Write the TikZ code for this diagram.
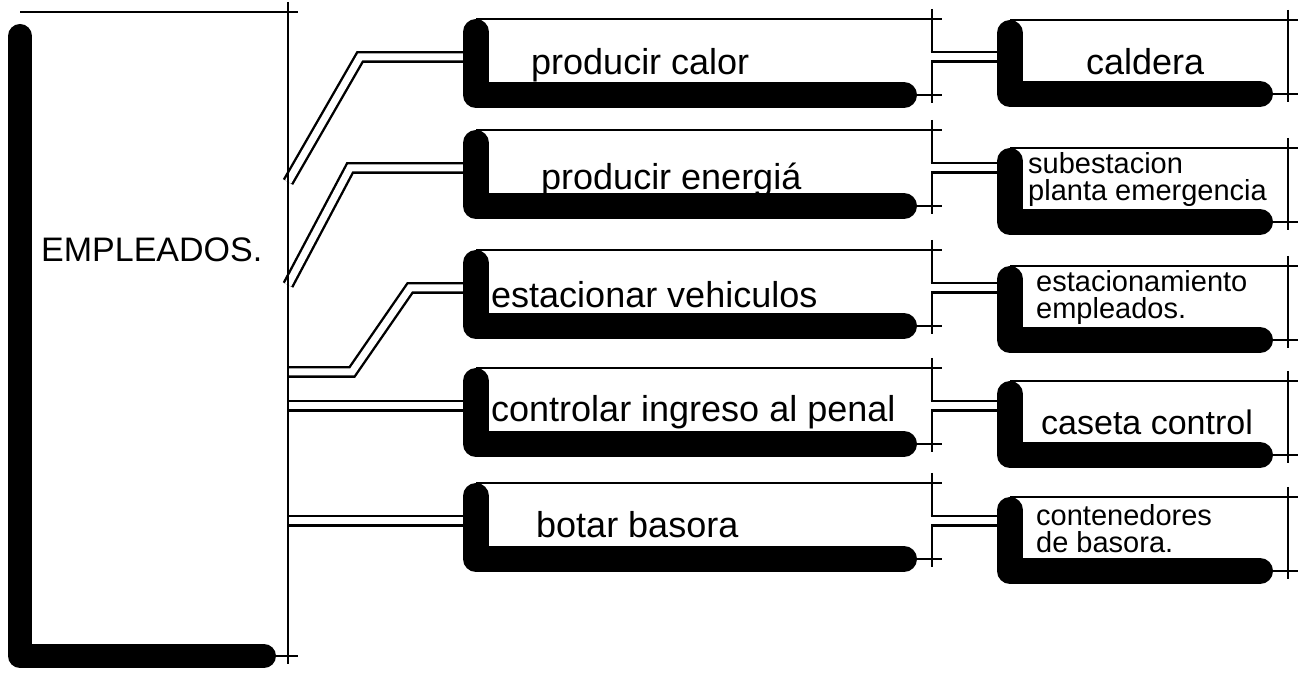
\documentclass[tikz,border=0pt]{standalone}
\usepackage{fontspec}
\setmainfont{Liberation Sans}
\usetikzlibrary{positioning}

\begin{document}
\begin{tikzpicture}[x=0.5pt,y=-0.5pt,line width=1.2pt,
 zona/.style={inner sep=0pt,outer sep=0pt},
 enlace/.style={double,double distance=3.5pt,line width=1.2pt},
 sombra/.style={line width=13pt,line cap=round,line join=round},
 etq/.style={font=\fontsize{18}{20}\selectfont,inner sep=0pt},
 etqb/.style={font=\fontsize{14.5}{13.5}\selectfont,align=left,inner sep=0pt}]
\useasboundingbox (0,0) rectangle (1308,678);
% bloques
\node[zona,minimum width=134pt,minimum height=322pt] (emp) at (154,334) {};
\foreach \i/\ya/\yb in {1/57/57,2/168/185,3/288/303,4/406/418,5/521/534}
 {\node[zona,minimum width=228pt,minimum height=38pt] (act\i) at (704,\ya) {};
  \node[zona,minimum width=139pt,minimum height=37pt] (esp\i) at (1149,\yb) {};}
% enlaces empleados -> actividades
\draw[enlace] ([yshift=76pt]emp.east) -- ([xshift=-58pt]act1.west) -- (act1.west);
\draw[enlace] ([yshift=24.5pt]emp.east) -- ([xshift=-63pt]act2.west) -- (act2.west);
\draw[enlace] ([yshift=-19pt]emp.east) -- ++(64,0) -- ([xshift=-33pt]act3.west) -- (act3.west);
\draw[enlace] (act4.west -| emp.east) -- (act4.west);
\draw[enlace] (act5.west -| emp.east) -- (act5.west);
% contornos
\foreach \n in {emp,act1,act2,act3,act4,act5,esp1,esp2,esp3,esp4,esp5}
 {\draw (\n.north west) -- ([xshift=5pt]\n.north east);
  \draw ([yshift=5pt]\n.north east) -- ([yshift=-4pt]\n.south east);
  \draw ([xshift=-14pt]\n.south east) -- ([xshift=5pt]\n.south east);}
% enlaces actividades -> espacios
\foreach \i in {1,...,5}
 \draw[enlace] ([xshift=-0.7pt]act\i.east) -- (act\i.east -| esp\i.west);
% sombras
\draw[sombra,line width=12pt] ([yshift=-12pt]emp.north west) -- (emp.south west) -- ([xshift=-12pt]emp.south east);
\foreach \n in {act1,act2,act3,act4,act5,esp1,esp2,esp3,esp4,esp5}
 \draw[sombra] ([yshift=-6.5pt]\n.north west) -- (\n.south west) -- ([xshift=-14pt]\n.south east);
% textos
\node[etq,font=\fontsize{17}{20}\selectfont,right=10pt of emp.west,yshift=42pt] (templ) {EMPLEADOS.};
\node[etq,right=27pt of act1.west,yshift=-4pt] (t1) {producir calor};
\node[etq,right=32pt of act2.west,yshift=-6pt] (t2) {producir energiá};
\node[etq,right=7pt of act3.west,yshift=-3.5pt] (t3) {estacionar vehiculos};
\node[etq,right=7pt of act4.west,yshift=-3pt] (t4) {controlar ingreso al penal};
\node[etq,right=29.5pt of act5.west,yshift=-2pt] (t5) {botar basora};
\node[etq,right=37.5pt of esp1.west,yshift=-2.5pt] (s1) {caldera};
\node[etqb,right=8.5pt of esp2.west,yshift=2.5pt] (s2) {subestacion\\planta emergencia};
\node[etqb,right=12.5pt of esp3.west,yshift=2.5pt] (s3) {estacionamiento\\empleados.};
\node[etq,font=\fontsize{17}{20}\selectfont,right=15pt of esp4.west,yshift=-2pt] (s4) {caseta control};
\node[etqb,right=12.5pt of esp5.west,yshift=2.5pt] (s5) {contenedores\\de basora.};
\end{tikzpicture}
\end{document}
